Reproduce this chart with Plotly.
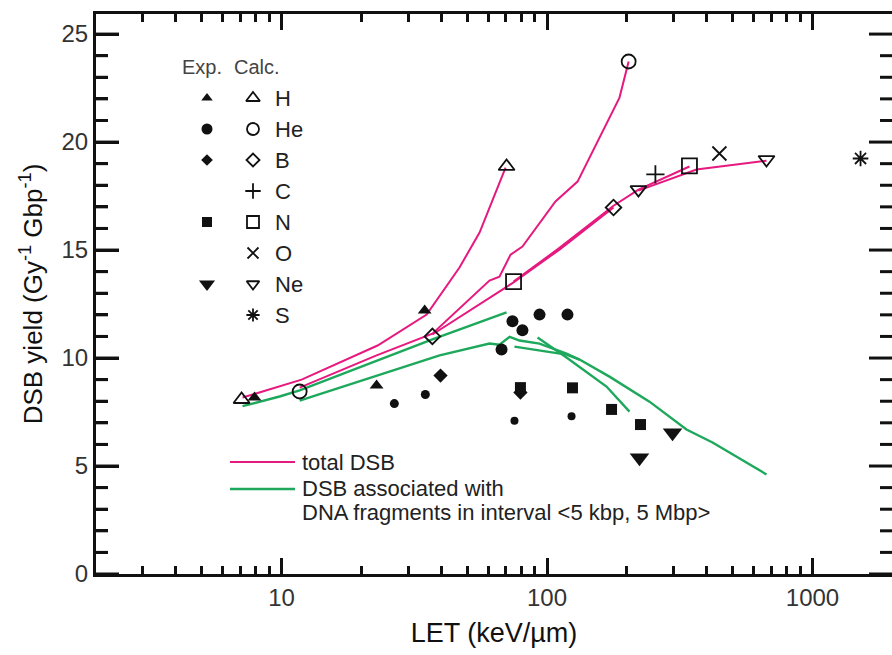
import math
import plotly.graph_objects as go

# ---------------- data ----------------
ions = ["H", "He", "B", "C", "N", "O", "Ne", "S"]

# calculated total DSB yields (open symbols): LET [keV/um], yield [Gy^-1 Gbp^-1]
calc_H_let = [7.07, 70.4]
calc_H_dsb = [8.08, 18.87]
calc_He_let = [11.7, 203]
calc_He_dsb = [8.45, 23.73]
calc_B_let = [37.0, 178]
calc_B_dsb = [11.0, 16.97]
calc_C_let = [256]
calc_C_dsb = [18.5]
calc_N_let = [74.8, 344]
calc_N_dsb = [13.54, 18.9]
calc_O_let = [446]
calc_O_dsb = [19.47]
calc_Ne_let = [221, 671]
calc_Ne_dsb = [17.8, 19.19]
calc_S_let = [1517]
calc_S_dsb = [19.24]

# experimental yields (filled symbols)
exp_H_let = [7.91, 22.8, 34.6]
exp_H_dsb = [8.17, 8.73, 12.2]
exp_He_let = [26.6, 34.8, 67.4, 74.1, 80.8, 93.7, 119.4, 75.4, 123.7]
exp_He_dsb = [7.89, 8.31, 10.39, 11.7, 11.29, 12.01, 12.01, 7.1, 7.3]
exp_B_let = [39.7, 79.4]
exp_B_dsb = [9.19, 8.4]
exp_N_let = [79.4, 124.7, 175, 225]
exp_N_dsb = [8.63, 8.62, 7.62, 6.92]
exp_Ne_let = [223, 297]
exp_Ne_dsb = [5.38, 6.54]

# model curves: total DSB
total_H_let = [7.13, 11.9, 23.0, 35.2, 46.8, 55.7, 69.8]
total_H_dsb = [8.17, 9.0, 10.58, 12.01, 14.19, 15.81, 18.82]
total_He_let = [11.7, 22.8, 37.0, 60.7, 66.2, 72.9, 80.8, 107.6, 130.3, 187.5, 203]
total_He_dsb = [8.63, 10.12, 11.13, 13.59, 13.77, 14.79, 15.16, 17.25, 18.17, 22.06, 23.73]
total_B_let = [37.0, 74.8, 111.4, 178]
total_B_dsb = [11.09, 13.5, 15.02, 16.97]
total_N_let = [74.8, 111.4, 178, 221, 344]
total_N_dsb = [13.54, 15.1, 17.05, 17.8, 18.87]
total_Ne_let = [221, 365.6, 671]
total_Ne_dsb = [17.75, 18.73, 19.14]

# model curves: DSB associated with fragments in <5 kbp, 5 Mbp>
frag_a_let = [7.13, 9.83, 11.7, 37.0, 70.4]
frag_a_dsb = [7.77, 8.22, 8.5, 10.86, 12.11]
frag_b_let = [11.7, 39.4, 60.7, 66.2, 72.3, 78.8, 93.7, 118.4, 132.6, 171.9, 243.2, 335.2, 420.2, 671]
frag_b_dsb = [8.03, 10.12, 10.67, 10.62, 10.98, 10.81, 10.67, 10.21, 9.93, 9.14, 7.98, 6.69, 6.09, 4.61]
frag_c_let = [75.4, 118.4, 132.6]
frag_c_dsb = [10.53, 10.16, 9.93]
frag_d_let = [92.1, 118.4, 167.5, 204.5]
frag_d_dsb = [10.95, 10.02, 8.68, 7.52]

x_ticks = [10, 100, 1000]
y_ticks = [0, 5, 10, 15, 20, 25]

# ---------------- styles ----------------
PINK = "#e6197f"
GREEN = "#1ea85c"
INK = "#111111"
FONT = "Liberation Sans, Arial, sans-serif"

W, H = 892, 655
M_L, M_R, M_T, M_B = 96, 0, 14, 81
Y_MAX = 25.93
X_LOG_RANGE = [math.log10(2), 3.2995]

calc_sets = {
    "H": (calc_H_let, calc_H_dsb), "He": (calc_He_let, calc_He_dsb),
    "B": (calc_B_let, calc_B_dsb), "C": (calc_C_let, calc_C_dsb),
    "N": (calc_N_let, calc_N_dsb), "O": (calc_O_let, calc_O_dsb),
    "Ne": (calc_Ne_let, calc_Ne_dsb), "S": (calc_S_let, calc_S_dsb),
}
exp_sets = {
    "H": (exp_H_let, exp_H_dsb), "He": (exp_He_let, exp_He_dsb),
    "B": (exp_B_let, exp_B_dsb), "N": (exp_N_let, exp_N_dsb),
    "Ne": (exp_Ne_let, exp_Ne_dsb),
}
calc_symbol = {"H": "triangle-up-open", "He": "circle-open", "B": "diamond-open",
               "C": "cross-thin-open", "N": "square-open", "O": "x-thin-open",
               "Ne": "triangle-down-open", "S": "asterisk-open"}
calc_size = {"H": 14, "He": 14, "B": 12, "C": 13, "N": 15, "O": 14, "Ne": 14, "S": 13}
exp_symbol = {"H": "triangle-up", "He": "circle", "B": "diamond", "N": "square",
              "Ne": "triangle-down"}
exp_size = {"H": 12, "He": 11, "B": 11, "N": 11, "Ne": 17}
he_point_size = [9, 9, 12, 12, 12, 12, 12, 8, 8]

fig = go.Figure()

# curves
for lx, ly in [(total_H_let, total_H_dsb), (total_He_let, total_He_dsb),
               (total_B_let, total_B_dsb), (total_N_let, total_N_dsb),
               (total_Ne_let, total_Ne_dsb)]:
    fig.add_trace(go.Scatter(x=lx, y=ly, mode="lines",
                             line=dict(color=PINK, width=2), hoverinfo="skip"))
for lx, ly in [(frag_a_let, frag_a_dsb), (frag_b_let, frag_b_dsb),
               (frag_c_let, frag_c_dsb), (frag_d_let, frag_d_dsb)]:
    fig.add_trace(go.Scatter(x=lx, y=ly, mode="lines",
                             line=dict(color=GREEN, width=2.4), hoverinfo="skip"))

# experimental points
for ion, (lx, ly) in exp_sets.items():
    size = he_point_size if ion == "He" else exp_size[ion]
    fig.add_trace(go.Scatter(x=lx, y=ly, mode="markers", cliponaxis=False,
                             marker=dict(symbol=exp_symbol[ion], size=size, color=INK,
                                         opacity=1, line=dict(width=0))))

# calculated points
for ion, (lx, ly) in calc_sets.items():
    fig.add_trace(go.Scatter(x=lx, y=ly, mode="markers", cliponaxis=False,
                             marker=dict(symbol=calc_symbol[ion], size=calc_size[ion],
                                         color=INK, opacity=1,
                                         line=dict(width=1.8, color=INK))))

# inward tick columns on both frame edges (y positions via the y scale)
plot_w = W - M_L - M_R
px_per_decade = plot_w / (X_LOG_RANGE[1] - X_LOG_RANGE[0])
tick_x, tick_y = [], []
for v in range(0, int(Y_MAX) + 1):
    tl = 23 if v in y_ticks else 12
    # left edge
    tick_x += [10 ** X_LOG_RANGE[0], 10 ** (X_LOG_RANGE[0] + tl / px_per_decade), None]
    tick_y += [v, v, None]
    # right edge
    tick_x += [10 ** (X_LOG_RANGE[1] - tl / px_per_decade), 10 ** X_LOG_RANGE[1], None]
    tick_y += [v, v, None]
fig.add_trace(go.Scatter(x=tick_x, y=tick_y, mode="lines", cliponaxis=False,
                         hoverinfo="skip", line=dict(color=INK, width=3)))

# ---------------- in-plot key (pixel-space overlay axes) ----------------
row_y0, row_dy = 98, 31
key_exp_x, key_calc_x, key_text_x = 207, 253, 273
key_exp_size = {"H": 10, "He": 11, "B": 9, "N": 10, "Ne": 14}
key_calc_size = {"H": 12, "He": 12, "B": 10, "C": 11, "N": 12, "O": 11, "Ne": 11, "S": 11}
for i, ion in enumerate(ions):
    yy = row_y0 + i * row_dy
    if ion in exp_symbol:
        fig.add_trace(go.Scatter(x=[key_exp_x], y=[yy], xaxis="x2", yaxis="y2",
                                 mode="markers", hoverinfo="skip",
                                 marker=dict(symbol=exp_symbol[ion], size=key_exp_size[ion],
                                             color=INK, line=dict(width=0))))
    fig.add_trace(go.Scatter(x=[key_calc_x], y=[yy], xaxis="x2", yaxis="y2",
                             mode="markers", hoverinfo="skip",
                             marker=dict(symbol=calc_symbol[ion], size=key_calc_size[ion],
                                         color=INK, line=dict(width=1.8, color=INK))))
    fig.add_annotation(x=key_text_x, y=yy, xref="x2", yref="y2", text=ion,
                       showarrow=False, xanchor="left", yanchor="middle",
                       font=dict(family=FONT, size=22, color="#222222"))

fig.add_annotation(x=202, y=67, xref="x2", yref="y2", text="Exp.", showarrow=False,
                   xanchor="center", yanchor="middle",
                   font=dict(family=FONT, size=20, color="#444444"))
fig.add_annotation(x=257, y=67, xref="x2", yref="y2", text="Calc.", showarrow=False,
                   xanchor="center", yanchor="middle",
                   font=dict(family=FONT, size=20, color="#444444"))

# line key
for yy, col, w in [(462, PINK, 2), (489, GREEN, 2.4)]:
    fig.add_trace(go.Scatter(x=[230, 295], y=[yy, yy], xaxis="x2", yaxis="y2",
                             mode="lines", hoverinfo="skip", line=dict(color=col, width=w)))
for yy, txt in [(462, "total DSB"), (488, "DSB associated with"),
                (512, "DNA fragments in interval &lt;5 kbp, 5 Mbp&gt;")]:
    fig.add_annotation(x=300, y=yy, xref="x2", yref="y2", text=txt, showarrow=False,
                       xanchor="left", yanchor="middle",
                       font=dict(family=FONT, size=22, color="#222222"))

# ---------------- axes ----------------
x_minor = [m * 10 ** d for d in range(0, 4) for m in range(2, 10) if 2 <= m * 10 ** d < 2000]
axis_common = dict(showgrid=False, zeroline=False, ticks="inside", tickcolor=INK,
                   tickwidth=3, showline=True, linecolor=INK, linewidth=3,
                   tickfont=dict(family=FONT, size=24, color="#333333"))

fig.update_layout(
    width=W, height=H,
    margin=dict(l=M_L, r=M_R, t=M_T, b=M_B, pad=0),
    paper_bgcolor="white", plot_bgcolor="white",
    showlegend=False,
    xaxis=dict(type="log", range=X_LOG_RANGE,
               tickvals=x_ticks, ticktext=[str(v) for v in x_ticks],
               ticklen=16, mirror="ticks",
               minor=dict(tickvals=x_minor, ticks="inside", ticklen=8, tickwidth=2.5,
                          tickcolor=INK, showgrid=False),
               title=dict(text="LET (keV/µm)", standoff=14,
                          font=dict(family=FONT, size=27, color="#111111")),
               **axis_common),
    yaxis=dict(range=[0, Y_MAX], tickvals=y_ticks, ticklen=23, mirror=False,
               minor=dict(dtick=1, ticks="inside", ticklen=12, tickwidth=3,
                          tickcolor=INK, showgrid=False),
               title=dict(text="DSB yield (Gy<sup>-1</sup> Gbp<sup>-1</sup>)", standoff=12,
                          font=dict(family=FONT, size=26, color="#111111")),
               **axis_common),
    xaxis2=dict(overlaying="x", anchor="y2", range=[M_L, W - M_R], visible=False),
    yaxis2=dict(overlaying="y", anchor="x2", range=[H - M_B, M_T], visible=False),
)

fig.write_html("out.html")
